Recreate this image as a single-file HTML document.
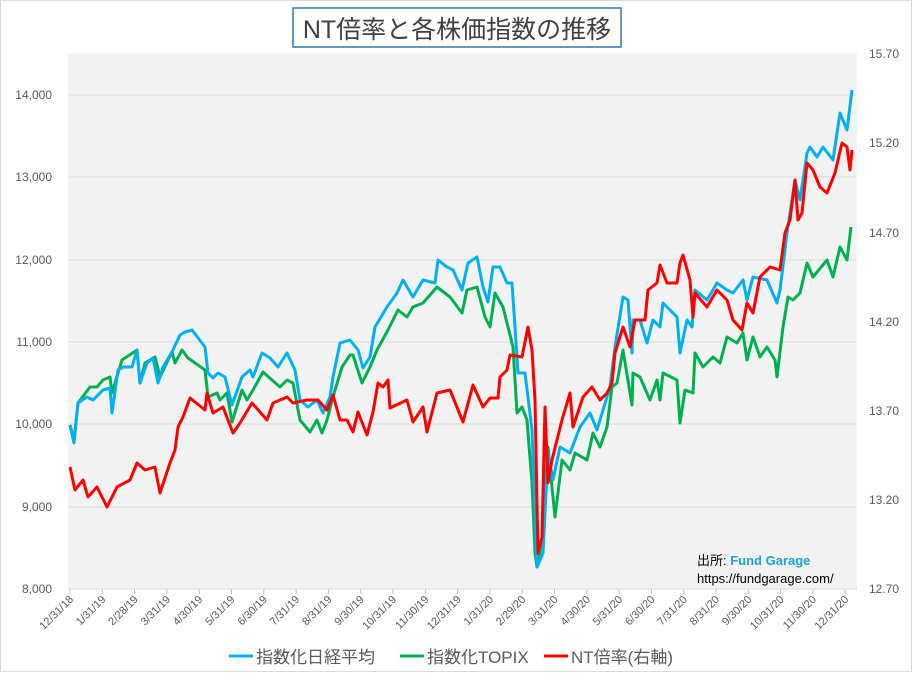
<!DOCTYPE html>
<html><head><meta charset="utf-8"><style>
body{margin:0;background:#fff;}
svg text{font-family:"Liberation Sans","Noto Sans CJK JP",sans-serif;}
</style></head><body>
<svg width="912" height="672" xmlns="http://www.w3.org/2000/svg">
<rect x="0.5" y="0.5" width="911" height="671" fill="#fff" stroke="#d9d9d9"/>
<rect x="68" y="53" width="789" height="536" fill="#f2f2f2"/>
<g stroke="#d9d9d9" stroke-width="1">
<line x1="68" x2="857" y1="95" y2="95"/><line x1="68" x2="857" y1="177" y2="177"/>
<line x1="68" x2="857" y1="260" y2="260"/><line x1="68" x2="857" y1="342" y2="342"/>
<line x1="68" x2="857" y1="424" y2="424"/><line x1="68" x2="857" y1="507" y2="507"/>
<line x1="68" x2="857" y1="589" y2="589"/>
</g>
<rect x="293" y="8" width="328" height="39" fill="#fff" stroke="#2e75b6" stroke-width="1.5"/>
<text x="457" y="38" font-size="25" fill="#404040" text-anchor="middle">NT倍率と各株価指数の推移</text>
<g font-size="12" fill="#595959" text-anchor="end">
<text x="52" y="99">14,000</text><text x="52" y="181">13,000</text><text x="52" y="264">12,000</text>
<text x="52" y="346">11,000</text><text x="52" y="428">10,000</text><text x="52" y="511">9,000</text>
<text x="52" y="593">8,000</text>
</g>
<g font-size="12" fill="#595959">
<text x="869" y="58">15.70</text><text x="869" y="147">15.20</text><text x="869" y="237">14.70</text>
<text x="869" y="326">14.20</text><text x="869" y="415">13.70</text><text x="869" y="504">13.20</text>
<text x="869" y="593">12.70</text>
</g>
<g id="ticks" stroke="#bfbfbf"></g>
<g id="xl" font-size="11" fill="#595959" text-anchor="end"></g>
<polyline fill="none" stroke="#00b050" stroke-width="3" stroke-linejoin="round" points="70,425 74,440 78,403 90,387 97,387 103,380 110,377 112,393 122,360 137,350 140,383 145,363 155,357 160,377 172,352 175,363 182,350 188,358 205,370 208,397 217,393 220,400 227,393 232,422 242,390 247,400 253,390 263,372 272,380 280,387 287,380 293,383 300,420 310,432 317,420 322,433 327,420 333,397 342,367 350,355 353,355 362,383 370,367 377,350 388,330 398,310 407,317 413,307 423,303 437,287 450,297 462,313 467,290 477,287 485,317 490,327 495,293 503,307 508,327 513,347 517,413 522,407 527,420 532,483 535,553 537,567 542,540 548,447 555,517 562,460 570,470 575,453 587,460 593,433 600,447 607,427 612,387 617,383 623,350 632,405 633,373 640,377 650,400 657,380 660,400 663,373 677,380 680,423 685,390 693,393 695,353 703,367 713,357 720,363 727,337 737,343 743,333 747,360 753,337 760,357 767,347 775,360 777,377 783,327 788,297 793,300 800,293 807,263 813,277 827,260 833,277 840,247 847,260 851,227"/>
<polyline fill="none" stroke="#00b0f0" stroke-width="3" stroke-linejoin="round" points="70,425 74,443 78,403 87,397 93,400 103,390 110,388 112,413 118,370 123,367 132,367 137,350 140,383 147,363 153,358 158,383 163,367 172,352 180,335 185,332 192,330 205,347 208,373 213,378 218,373 225,377 232,405 242,377 250,370 253,377 262,353 270,358 278,367 287,353 295,370 300,400 308,407 317,400 323,413 330,397 333,377 340,343 350,340 358,350 363,368 370,357 375,327 387,307 397,293 403,280 413,297 423,280 435,283 438,260 447,267 453,270 462,290 468,263 477,257 483,287 488,302 493,267 500,267 507,283 512,283 515,327 518,373 525,373 532,430 537,567 543,553 548,453 553,480 560,447 570,453 580,427 590,413 597,430 610,387 615,347 623,297 628,300 632,353 633,320 640,320 647,343 653,320 660,327 663,303 677,317 680,353 687,320 692,327 695,290 707,300 717,283 727,290 733,293 743,280 747,300 753,277 767,280 777,303 780,290 787,233 795,180 800,200 807,153 810,147 817,157 823,147 833,160 840,113 847,130 852,90"/>
<polyline fill="none" stroke="#ff0000" stroke-width="3" stroke-linejoin="round" points="70,467 75,490 83,480 88,497 97,487 107,507 117,487 130,480 137,463 145,470 155,467 160,493 165,478 170,463 175,450 178,427 183,417 190,398 205,410 207,393 213,413 223,407 233,433 240,423 252,403 267,420 273,403 287,397 293,403 307,400 318,400 327,410 333,395 340,420 347,420 353,432 358,412 367,435 373,412 378,383 383,387 388,380 390,408 407,400 413,422 423,407 427,432 437,393 450,390 463,422 473,385 483,407 490,398 498,398 500,377 507,370 510,355 522,357 528,327 532,350 535,400 538,553 542,537 545,407 548,483 552,460 562,420 570,393 573,427 583,397 592,387 600,400 607,393 612,383 615,353 623,327 630,347 635,320 645,320 648,290 657,283 660,265 667,283 677,283 680,263 683,255 690,280 693,317 695,293 707,307 717,290 727,300 733,320 742,330 747,303 753,313 760,277 770,267 780,270 785,233 790,220 795,180 798,220 802,213 807,163 813,170 820,187 827,193 835,173 842,143 847,147 850,170 852,150"/>
<text x="697" y="565" font-size="13" fill="#000">出所: <tspan fill="#1aa3dd" font-weight="bold">Fund Garage</tspan></text>
<text x="697" y="583" font-size="13" fill="#000">https://fundgarage.com/</text>
<g font-size="17" fill="#595959">
<line x1="229" x2="253" y1="656" y2="656" stroke="#00b0f0" stroke-width="3"/><text x="256" y="663">指数化日経平均</text>
<line x1="400" x2="424" y1="656" y2="656" stroke="#00b050" stroke-width="3"/><text x="427" y="663">指数化TOPIX</text>
<line x1="544" x2="568" y1="656" y2="656" stroke="#ff0000" stroke-width="3"/><text x="571" y="663">NT倍率(右軸)</text>
</g>
</svg>
<script>
var labs=["12/31/18","1/31/19","2/28/19","3/31/19","4/30/19","5/31/19","6/30/19","7/31/19","8/31/19","9/30/19","10/31/19","11/30/19","12/31/19","1/31/20","2/29/20","3/31/20","4/30/20","5/31/20","6/30/20","7/31/20","8/31/20","9/30/20","10/31/20","11/30/20","12/31/20"];
var t=document.getElementById('ticks'),xl=document.getElementById('xl'),ns="http://www.w3.org/2000/svg";
labs.forEach(function(s,i){var x=70+i*32.3;
var l=document.createElementNS(ns,'line');l.setAttribute('x1',x);l.setAttribute('x2',x);l.setAttribute('y1',589);l.setAttribute('y2',594);t.appendChild(l);
var tx=document.createElementNS(ns,'text');tx.setAttribute('transform','translate('+(x+4)+',600) rotate(-45)');tx.textContent=s;xl.appendChild(tx);});
</script>
</body></html>
